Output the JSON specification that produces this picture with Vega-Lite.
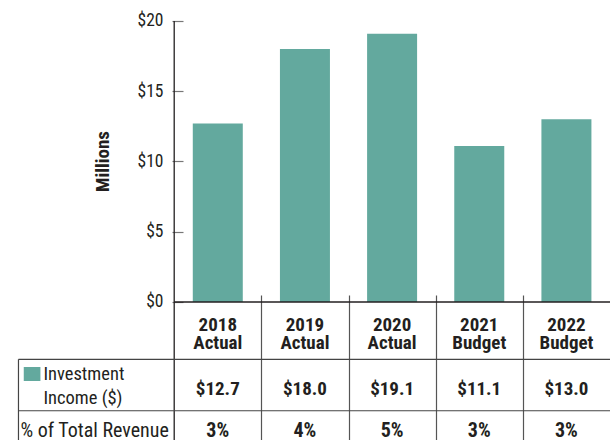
{
  "$schema": "https://vega.github.io/schema/vega-lite/v6.json",
  "width": 615,
  "height": 440,
  "padding": 0,
  "autosize": {"type": "none"},
  "background": "white",
  "config": {
    "view": {"stroke": null},
    "font": "Roboto Condensed, Liberation Sans Narrow, DejaVu Sans Condensed, sans-serif",
    "text": {"font": "Roboto Condensed, Liberation Sans Narrow, DejaVu Sans Condensed, sans-serif", "color": "#231f20"}
  },
  "data": {
    "values": [
      {"col": 0, "year": "2018", "kind": "Actual", "income": 12.7, "share": 0.03},
      {"col": 1, "year": "2019", "kind": "Actual", "income": 18.0, "share": 0.04},
      {"col": 2, "year": "2020", "kind": "Actual", "income": 19.1, "share": 0.05},
      {"col": 3, "year": "2021", "kind": "Budget", "income": 11.1, "share": 0.03},
      {"col": 4, "year": "2022", "kind": "Budget", "income": 13.0, "share": 0.03}
    ]
  },
  "layer": [
    {
      "mark": {"type": "bar", "width": 50, "color": "#63a99e"},
      "encoding": {
        "x": {
          "field": "col", "type": "quantitative",
          "scale": {"domain": [-2.4413, 4.5], "nice": false, "zero": false},
          "axis": {"orient": "bottom", "offset": -145, "values": [0.5, 1.5, 2.5, 3.5], "labels": false, "domain": false, "grid": false, "tickSize": 145, "tickColor": "#555555", "tickWidth": 1.2, "title": null}
        },
        "y": {
          "field": "income", "type": "quantitative",
          "scale": {"domain": [-9.822, 21.494], "nice": false, "zero": false},
          "axis": {
            "orient": "left", "offset": -172, "values": [0, 5, 10, 15, 20],
            "labelExpr": "'$' + datum.value", "domain": false, "grid": false,
            "tickSize": -11, "tickColor": "#777777", "tickWidth": 1.2, "labelPadding": 20,
            "labelFont": "Roboto Condensed, Liberation Sans Narrow, DejaVu Sans Condensed, sans-serif", "labelFontSize": 17.5, "labelColor": "#231f20",
            "title": "Millions", "titleFont": "Roboto Condensed, Liberation Sans Narrow, DejaVu Sans Condensed, sans-serif", "titleFontSize": 19,
            "titleFontWeight": "bold", "titleColor": "#231f20", "titleX": -70, "titleY": 161,
            "titleAngle": -90, "titleAlign": "center", "titleBaseline": "middle"
          }
        },
        "y2": {"datum": 0}
      }
    },
    {
      "data": {"values": [{}]},
      "mark": {"type": "rule", "color": "#231f20", "strokeWidth": 1.3},
      "encoding": {"x": {"datum": -0.5}, "y": {"datum": 20}, "y2": {"datum": -9.822}}
    },
    {
      "data": {"values": [{}]},
      "mark": {"type": "rule", "color": "#231f20", "strokeWidth": 1.5},
      "encoding": {"x": {"datum": -0.5}, "x2": {"datum": 4.5}, "y": {"datum": 0}}
    },
    {
      "data": {"values": [{}]},
      "mark": {"type": "rule", "color": "#444444", "strokeWidth": 1.2},
      "encoding": {"x": {"datum": -2.2867}, "x2": {"datum": 4.5}, "y": {"datum": -4.08}}
    },
    {
      "data": {"values": [{}]},
      "mark": {"type": "rule", "color": "#444444", "strokeWidth": 1.2},
      "encoding": {"x": {"datum": -2.2867}, "x2": {"datum": 4.5}, "y": {"datum": -7.74}}
    },
    {
      "data": {"values": [{}]},
      "mark": {"type": "rule", "color": "#444444", "strokeWidth": 1.2},
      "encoding": {"x": {"datum": -2.2867}, "y": {"datum": -4.08}, "y2": {"datum": -9.822}}
    },
    {
      "data": {"values": [{}]},
      "mark": {"type": "rect", "color": "#63a99e"},
      "encoding": {"x": {"datum": -2.226}, "x2": {"datum": -2.035}, "y": {"datum": -4.626}, "y2": {"datum": -5.623}}
    },
    {
      "mark": {"type": "text", "fontSize": 19, "fontWeight": "bold", "align": "center", "baseline": "alphabetic"},
      "encoding": {"x": {"field": "col", "type": "quantitative"}, "y": {"datum": -2.04}, "text": {"field": "year"}}
    },
    {
      "mark": {"type": "text", "fontSize": 19, "fontWeight": "bold", "align": "center", "baseline": "alphabetic"},
      "encoding": {"x": {"field": "col", "type": "quantitative"}, "y": {"datum": -3.37}, "text": {"field": "kind"}}
    },
    {
      "mark": {"type": "text", "fontSize": 19, "fontWeight": "bold", "align": "center", "baseline": "alphabetic"},
      "encoding": {"x": {"field": "col", "type": "quantitative"}, "y": {"datum": -6.62}, "text": {"field": "income", "format": "$.1f"}}
    },
    {
      "mark": {"type": "text", "fontSize": 20, "fontWeight": "bold", "align": "center", "baseline": "alphabetic"},
      "encoding": {"x": {"field": "col", "type": "quantitative"}, "y": {"datum": -9.64}, "text": {"field": "share", "format": ".0%"}}
    },
    {
      "data": {"values": [{}]},
      "mark": {"type": "text", "fontSize": 18.5, "align": "left", "baseline": "alphabetic"},
      "encoding": {"x": {"datum": -2.001}, "y": {"datum": -5.55}, "text": {"value": "Investment"}}
    },
    {
      "data": {"values": [{}]},
      "mark": {"type": "text", "fontSize": 18.5, "align": "left", "baseline": "alphabetic"},
      "encoding": {"x": {"datum": -2.001}, "y": {"datum": -7.26}, "text": {"value": "Income ($)"}}
    },
    {
      "data": {"values": [{}]},
      "mark": {"type": "text", "fontSize": 20, "align": "left", "baseline": "alphabetic"},
      "encoding": {"x": {"datum": -2.264}, "y": {"datum": -9.64}, "text": {"value": "% of Total Revenue"}}
    }
  ]
}
